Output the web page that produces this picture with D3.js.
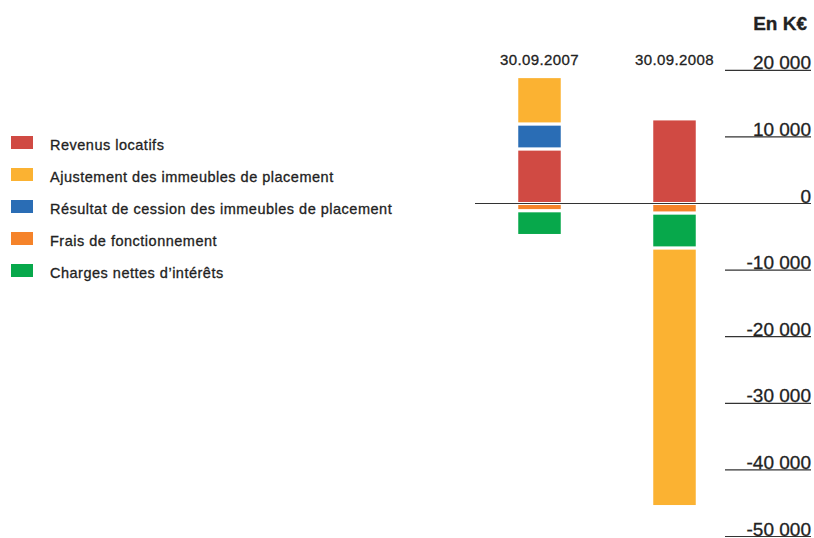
<!DOCTYPE html>
<html>
<head>
<meta charset="utf-8">
<script src="https://cdn.jsdelivr.net/npm/d3@7"></script>
<style>
  body { margin: 0; background: #fff; }
  svg text { font-family: "Liberation Sans", Arial, sans-serif; fill: #222; stroke: #222; stroke-width: 0.3px; }
</style>
</head>
<body>
<div id="chart"></div>
<script>
// values in K€
var categories = ["30.09.2007", "30.09.2008"];
var revenus    = [8200, 12700];
var ajustement = [7100, -38800];
var cession    = [3750, 0];
var frais      = [-1100, -1450];
var charges    = [-3700, -5250];
var tickValues = [20000, 10000, 0, -10000, -20000, -30000, -40000, -50000];

var legendItems = [
  {key: "revenus",    label: "Revenus locatifs",                              color: "#d04a43"},
  {key: "ajustement", label: "Ajustement des immeubles de placement",         color: "#fbb232"},
  {key: "cession",    label: "Résultat de cession des immeubles de placement", color: "#2a6db5"},
  {key: "frais",      label: "Frais de fonctionnement",                       color: "#f5832a"},
  {key: "charges",    label: "Charges nettes d\u2019intérêts",                color: "#07a84b"}
];

var w = 814, h = 538;
var svg = d3.select("#chart").append("svg")
  .attr("width", w)
  .attr("height", h);

var rows = categories.map(function(c, i){
  return {cat: c, revenus: revenus[i], ajustement: ajustement[i], cession: cession[i],
          frais: frais[i], charges: charges[i]};
});

// stacking order so that positives go revenus/cession/ajustement and negatives frais/charges/ajustement
var stack = d3.stack()
  .keys(["revenus", "cession", "frais", "charges", "ajustement"])
  .offset(d3.stackOffsetDiverging);
var series = stack(rows);

var colorOf = {};
legendItems.forEach(function(d){ colorOf[d.key] = d.color; });

var y = d3.scaleLinear().domain([-50000, 20000]).range([536.5, 70.3]);
var x = d3.scalePoint().domain(categories).range([539.5, 674.5]);
var barW = 45.5;

var fr = d3.formatLocale({decimal: ",", thousands: " ", grouping: [3], currency: ["", " €"], minus: "-"});
var fmt = fr.format(",d");

// ticks
var ticks = svg.append("g").attr("class", "axis");
ticks.selectAll("line")
  .data(tickValues)
  .enter().append("line")
    .attr("x1", function(d){ return d === 0 ? 475 : 725; })
    .attr("x2", 811)
    .attr("y1", function(d){ return y(d); })
    .attr("y2", function(d){ return y(d); })
    .attr("stroke", "#333")
    .attr("stroke-width", 1.2);

ticks.selectAll("text")
  .data(tickValues)
  .enter().append("text")
    .attr("x", 811)
    .attr("y", function(d){ return y(d) - 1; })
    .attr("text-anchor", "end")
    .style("font-size", "19px")
    .text(function(d){ return fmt(d); });

// bars
svg.append("g").selectAll("g")
  .data(series)
  .enter().append("g")
    .attr("fill", function(s){ return colorOf[s.key]; })
  .selectAll("rect")
  .data(function(s){ return s.filter(function(d){ return d[1] !== d[0]; }); })
  .enter().append("rect")
    .attr("x", function(d){ return x(d.data.cat) - barW / 2; })
    .attr("width", barW)
    .attr("y", function(d){ return y(d[1]); })
    .attr("height", function(d){ return y(d[0]) - y(d[1]); })
    .attr("stroke", "#fff")
    .attr("stroke-width", 3);

// redraw zero line on top
svg.append("line")
  .attr("x1", 475).attr("x2", 811)
  .attr("y1", y(0)).attr("y2", y(0))
  .attr("stroke", "#333")
  .attr("stroke-width", 1.2);

// category labels
svg.selectAll(".catLabel")
  .data(categories)
  .enter().append("text")
    .attr("class", "catLabel")
    .attr("x", function(d){ return x(d); })
    .attr("y", 64.5)
    .attr("text-anchor", "middle")
    .style("font-size", "15px")
    .style("letter-spacing", "0.4px")
    .text(function(d){ return d; });

svg.append("text")
  .attr("x", 807)
  .attr("y", 29.5)
  .attr("text-anchor", "end")
  .style("font-size", "19px")
  .style("font-weight", "bold")
  .text("En K€");

// legend
var legend = svg.append("g").attr("class", "legend");
var lg = legend.selectAll("g")
  .data(legendItems)
  .enter().append("g")
    .attr("transform", function(d, i){ return "translate(11," + (136 + i * 32) + ")"; });
lg.append("rect")
  .attr("width", 22)
  .attr("height", 13)
  .attr("fill", function(d){ return d.color; });
lg.append("text")
  .attr("x", 39)
  .attr("y", 13.5)
  .style("font-size", "14.5px")
  .style("letter-spacing", "0.5px")
  .text(function(d){ return d.label; });
</script>
</body>
</html>
